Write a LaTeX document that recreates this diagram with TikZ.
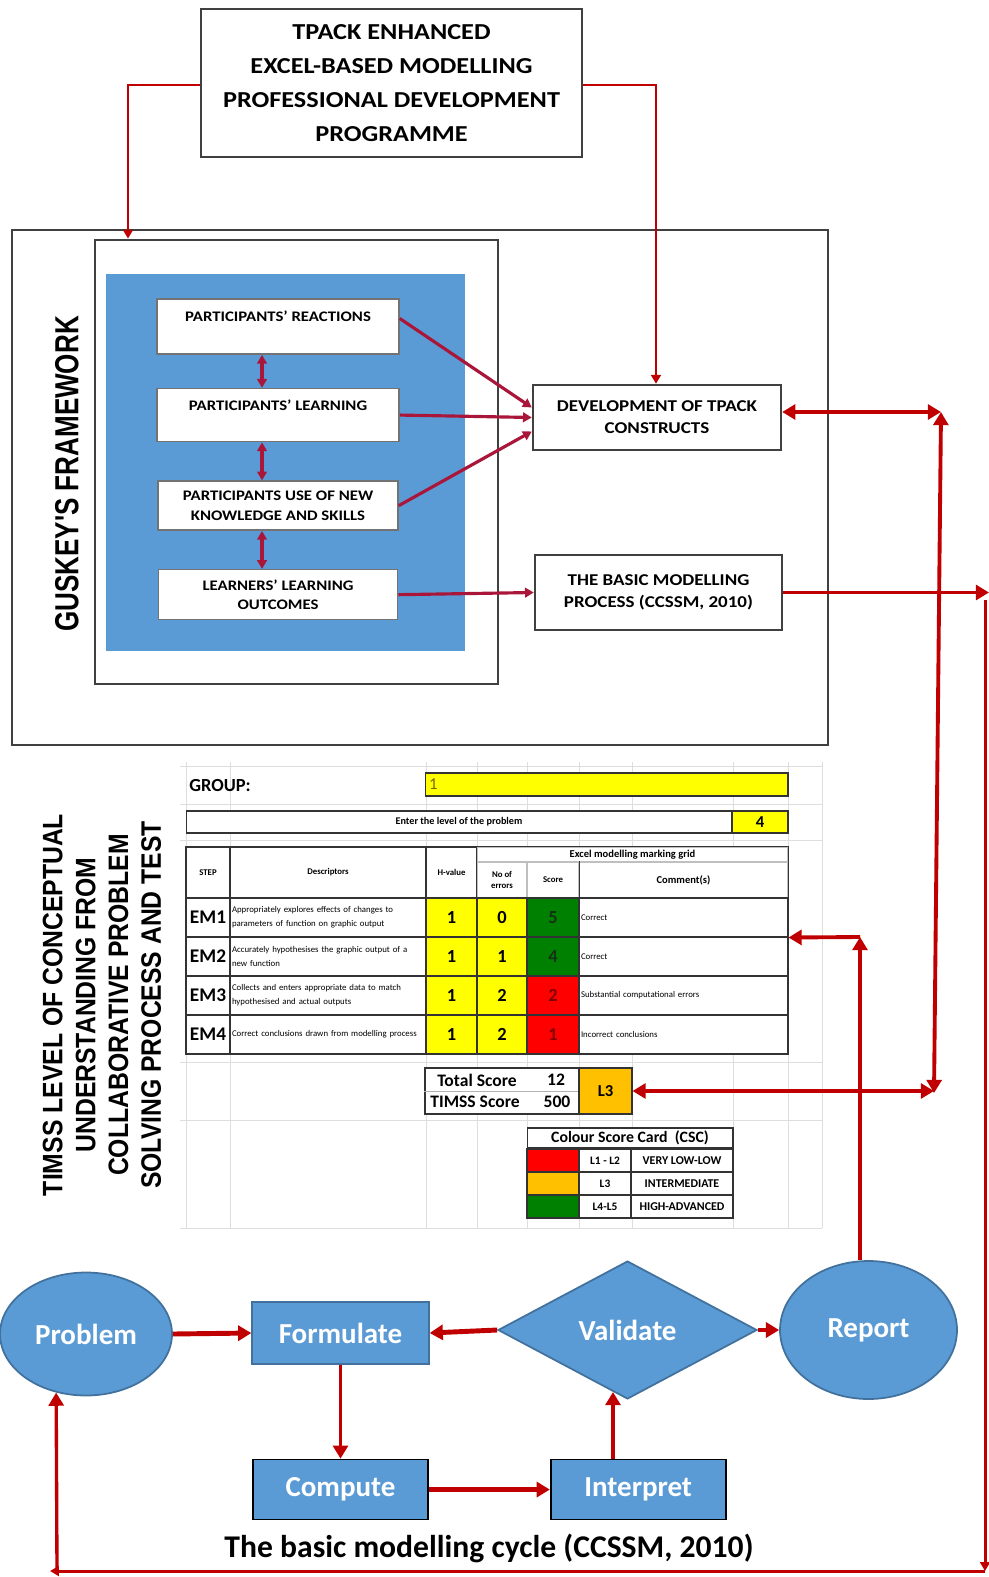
\documentclass[tikz,border=0pt]{standalone}
\usepackage{fontspec}
\setmainfont{Carlito}
\newfontfamily\widefont{Carlito}[FakeStretch=1.15]
\newfontfamily\narrowfont{Liberation Sans}[FakeStretch=0.78]
\newfontfamily\timssfont{Liberation Sans}[FakeStretch=0.88]
\usetikzlibrary{positioning,shapes.geometric,arrows.meta}

\definecolor{pdred}{RGB}{192,0,0}
\definecolor{linkred}{RGB}{170,22,58}
\definecolor{panelblue}{RGB}{91,155,213}
\definecolor{cycleedge}{RGB}{65,113,156}
\definecolor{xlyellow}{RGB}{255,255,0}
\definecolor{xlgreen}{RGB}{0,128,0}
\definecolor{xlred}{RGB}{255,0,0}
\definecolor{xlorange}{RGB}{255,192,0}
\definecolor{xlgrid}{RGB}{222,222,222}
\definecolor{xlbrown}{RGB}{128,96,0}
\definecolor{scgreen}{RGB}{20,50,20}
\definecolor{scred}{RGB}{130,0,0}

\tikzset{
	redtip/.tip={Triangle[length=7.5pt,width=8.5pt]},
	smalltip/.tip={Triangle[length=5pt,width=5.5pt]},
	pdbox/.style={draw=black!75,line width=1.4pt,fill=white,inner sep=0pt,align=center},
	levelbox/.style={draw=black!55,line width=0.9pt,fill=white,inner sep=0pt,align=center,font=\widefont\bfseries\fontsize{8.3}{11.3}\selectfont},
	redline/.style={draw=pdred,line width=2.2pt},
	linkline/.style={draw=linkred,line width=1.8pt},
	stage/.style={fill=panelblue,text=white,font=\bfseries\fontsize{16.5}{18}\selectfont,inner sep=0pt},
	cell/.style={draw=black!80,line width=0.6pt,fill=white,inner sep=0pt,minimum height=0.78cm,align=center},
	hcell/.style={cell,font=\bfseries\fontsize{5}{6}\selectfont},
}

\begin{document}
\begin{tikzpicture}[x=0.02cm,y=-0.02cm]
	\useasboundingbox (0,0) rectangle (989,1577);
	\node (prog) [pdbox,minimum width=7.62cm,minimum height=2.96cm,font=\widefont\bfseries\fontsize{13}{19.3}\selectfont] at (391.5,83) {TPACK ENHANCED\\EXCEL-BASED MODELLING\\PROFESSIONAL DEVELOPMENT\\PROGRAMME};
	\node (outer) [draw=black!75,line width=1.3pt,minimum width=16.32cm,minimum height=10.3cm] at (420,487.5) {};
	\node (inner) [draw=black!75,line width=1.6pt,minimum width=8.06cm,minimum height=8.88cm] at (296.5,462) {};
	\node (panel) [fill=panelblue,minimum width=7.18cm,minimum height=7.54cm] at (285.5,462.5) {};
	\node (gusk) [rotate=90,font=\narrowfont\bfseries\fontsize{19}{22}\selectfont] at (67,474) {GUSKEY'S FRAMEWORK};
	\node (b1) [levelbox,minimum width=4.84cm,minimum height=1.1cm] at (278,326.5) {PARTICIPANTS’ REACTIONS\\~};
	\node (b2) [levelbox,minimum width=4.84cm,minimum height=1.06cm,below=0.66cm of b1] {PARTICIPANTS’ LEARNING\\~};
	\node (b3) [levelbox,minimum width=4.8cm,minimum height=0.98cm,below=0.76cm of b2] {PARTICIPANTS USE OF NEW\\KNOWLEDGE AND SKILLS};
	\node (b4) [levelbox,minimum width=4.78cm,minimum height=1.0cm,below=0.76cm of b3] {LEARNERS’ LEARNING\\OUTCOMES};
	\node (dev) [pdbox,minimum width=4.96cm,minimum height=1.3cm,font=\widefont\bfseries\fontsize{9.4}{12.5}\selectfont] at (657,417.5) {DEVELOPMENT OF TPACK\\CONSTRUCTS};
	\node (basic) [pdbox,minimum width=4.94cm,minimum height=1.5cm,font=\widefont\bfseries\fontsize{9.4}{12.5}\selectfont] at (658.5,592.5) {THE BASIC MODELLING\\PROCESS (CCSSM, 2010)};

	\coordinate (p1) at (128,85);
	\coordinate (p2) at (656,85);
	\draw[redline,line width=1.6pt,-smalltip] (prog.west |- p1) -- (p1) -- (p1 |- inner.north);
	\draw[redline,line width=1.6pt,-smalltip] (prog.east |- p2) -- (p2) -- (p2 |- dev.north);
	\foreach \a/\b in {b1/b2,b2/b3,b3/b4}
		\draw[linkline,smalltip-smalltip] ([xshift=-0.32cm]\a.south) -- ([xshift=-0.32cm]\b.north);
	\draw[linkline,-smalltip] ([yshift=0.16cm]b1.east) -- ([yshift=0.2cm]dev.west);
	\draw[linkline,-smalltip] (b2.east) -- (dev.west);
	\draw[linkline,-smalltip] (b3.east) -- ([yshift=-0.28cm]dev.west);
	\draw[linkline,-smalltip] (b4.east) -- (basic.west);

	\foreach \gx in {186,230,426,477,527,579,632,733,788,822}
		\draw[xlgrid,line width=0.5pt] (\gx,762) -- (\gx,1228);
	\foreach \gy in {766,804,840,1062,1120,1228}
		\draw[xlgrid,line width=0.5pt] (180,\gy) -- (822,\gy);

	\node (timss) [rotate=90,align=center,font=\timssfont\bfseries\fontsize{16}{18.7}\selectfont] at (102,1005) {TIMSS LEVEL OF CONCEPTUAL\\UNDERSTANDING FROM\\COLLABORATIVE PROBLEM\\SOLVING PROCESS AND TEST};

	\node (grp) [anchor=west,inner sep=0pt,font=\bfseries\fontsize{10.5}{12}\selectfont] at (189,786) {GROUP:};
	\node (grpv) [cell,fill=xlyellow,minimum height=0.46cm,text width=7.1cm,align=left,inner xsep=0.08cm,text=xlbrown,font=\fontsize{9.5}{10}\selectfont] at (606.5,784.5) {1};
	\node (lvl) [cell,minimum width=10.92cm,minimum height=0.44cm,font=\bfseries\fontsize{5.8}{7}\selectfont] at (459,822) {Enter the level of the problem};
	\node (lvlv) [cell,fill=xlyellow,minimum width=1.12cm,minimum height=0.44cm,font=\bfseries\fontsize{9.5}{10}\selectfont] at (760,822) {4};

	\node (hstep) [hcell,minimum width=0.88cm,minimum height=1.02cm] at (208,872.5) {STEP};
	\node (hdesc) [hcell,minimum width=3.92cm,minimum height=1.02cm] at (328,872.5) {Descriptors};
	\node (hhval) [hcell,minimum width=1.02cm,minimum height=1.02cm] at (451.5,872.5) {H-value};
	\node (hgrid) [hcell,draw=black!25,minimum width=6.22cm,minimum height=0.3cm,font=\bfseries\fontsize{6}{7}\selectfont] at (632.5,854.5) {Excel modelling marking grid};
	\node (herr) [hcell,draw=black!25,minimum width=1.0cm,minimum height=0.72cm] at (502,880) {No of\\errors};
	\node (hscore) [hcell,draw=black!25,minimum width=1.04cm,minimum height=0.72cm] at (553,880) {Score};
	\node (hcom) [hcell,draw=black!25,minimum width=4.18cm,minimum height=0.72cm,font=\bfseries\fontsize{6}{7}\selectfont] at (683.5,880) {Comment(s)};
	\draw[black!80,line width=0.6pt] (hgrid.north west) rectangle (hcom.south east);
	\draw[black!80,line width=0.6pt] (hscore.north east) -- (hscore.south east);

	\foreach \r/\y/\desc/\er/\sc/\scol/\stxt/\com in {
		1/917.5/{Appropriately explores effects of changes to\\parameters of function on graphic output}/0/5/xlgreen/scgreen/Correct,
		2/956.5/{Accurately hypothesises the graphic output of a\\new function}/1/4/xlgreen/scgreen/Correct,
		3/995.5/{Collects and enters appropriate data to match\\hypothesised and actual outputs}/2/2/xlred/scred/Substantial computational errors,
		4/1034.5/{Correct conclusions drawn from modelling process}/2/1/xlred/scred/Incorrect conclusions}
	{
		\node (step\r) [cell,minimum width=0.88cm,font=\bfseries\fontsize{11}{12}\selectfont] at (208,\y) {EM\r};
		\node (desc\r) [cell,text width=3.84cm,inner xsep=0.04cm,align=left,font=\fontsize{5}{7.8}\selectfont] at (328,\y) {\desc};
		\node (hval\r) [cell,fill=xlyellow,minimum width=1.02cm,font=\bfseries\fontsize{10.5}{12}\selectfont] at (451.5,\y) {1};
		\node (err\r) [cell,fill=xlyellow,minimum width=1.0cm,font=\bfseries\fontsize{10.5}{12}\selectfont] at (502,\y) {\er};
		\node (score\r) [cell,fill=\scol,text=\stxt,minimum width=1.04cm,font=\bfseries\fontsize{10.5}{12}\selectfont] at (553,\y) {\sc};
		\node (com\r) [cell,text width=4.1cm,inner xsep=0.04cm,align=left,font=\fontsize{5}{7.8}\selectfont] at (683.5,\y) {\com};
	}

	\node (tot) [cell,minimum width=3.08cm,minimum height=0.92cm] at (502,1091) {};
	\draw[black!30,line width=0.4pt] (tot.west) -- (tot.east);
	\node (totl) [font=\bfseries\fontsize{10}{12}\selectfont] at (477,1080) {Total Score};
	\node (totv) [font=\bfseries\fontsize{10}{12}\selectfont] at (556,1080) {12};
	\node (timl) [font=\bfseries\fontsize{10}{12}\selectfont] at (475,1102) {TIMSS Score};
	\node (timv) [font=\bfseries\fontsize{10}{12}\selectfont] at (557,1102) {500};
	\node (l3) [cell,fill=xlorange,minimum width=1.06cm,minimum height=0.92cm,font=\bfseries\fontsize{9.5}{11}\selectfont] at (605.5,1091) {L3};

	\node (csc) [cell,minimum width=4.12cm,minimum height=0.4cm,font=\bfseries\fontsize{9}{10}\selectfont] at (630,1138) {Colour Score Card\ \ (CSC)};
	\foreach \i/\y/\col/\lv/\nm in {1/1160.5/xlred/L1 - L2/VERY LOW-LOW,2/1183.5/xlorange/L3/INTERMEDIATE,3/1206.5/xlgreen/L4-L5/HIGH-ADVANCED}
	{
		\node (cscc\i) [cell,fill=\col,minimum width=1.04cm,minimum height=0.46cm] at (553,\y) {};
		\node (cscl\i) [cell,minimum width=1.04cm,minimum height=0.46cm,font=\bfseries\fontsize{6.5}{7}\selectfont] at (605,\y) {\lv};
		\node (cscn\i) [cell,minimum width=2.04cm,minimum height=0.46cm,font=\bfseries\fontsize{6.8}{7}\selectfont] at (682,\y) {\nm};
	}

	\node (prob) [stage,ellipse,draw=cycleedge,line width=1pt,minimum width=3.44cm,minimum height=2.46cm] at (86,1334) {Problem};
	\node (form) [stage,draw=cycleedge,line width=0.8pt,minimum width=3.54cm,minimum height=1.24cm] at (340.5,1333) {Formulate};
	\node (val) [stage,diamond,aspect=1.88,draw=cycleedge,line width=1pt,minimum width=5.18cm,minimum height=2.76cm] at (627.5,1330) {Validate};
	\node (rep) [stage,ellipse,draw=cycleedge,line width=1pt,minimum width=3.54cm,minimum height=2.76cm] at (868.5,1330) {Report};
	\node (comp) [stage,draw=black,line width=1pt,minimum width=3.5cm,minimum height=1.2cm,below=1.88cm of form] {Compute};
	\node (intp) [stage,draw=black,line width=1pt,minimum width=3.5cm,minimum height=1.2cm,right=2.42cm of comp] {Interpret};
	\node (cap) [font=\bfseries\fontsize{18}{20}\selectfont] at (489,1548) {The basic modelling cycle (CCSSM, 2010)};

	\draw[redline,line width=2.8pt,-redtip] (prob.east) -- (form.west);
	\draw[redline,line width=2.8pt,-redtip] (val.west) -- (form.east);
	\draw[redline,line width=2.8pt,-redtip] (val.east) -- (rep.west);
	\draw[redline,-redtip] (form.south) -- (comp.north);
	\draw[redline,line width=2.8pt,-redtip] (comp.east) -- (intp.west);
	\coordinate (c9) at (613,1392);
	\draw[redline,-redtip] (intp.north -| c9) -- (c9);

	\coordinate (c1) at (941,412);
	\coordinate (c2) at (934,1093);
	\draw[redline,redtip-redtip] (dev.east |- c1) -- (c1);
	\draw[redline,redtip-redtip] (c2) -- (c1);
	\draw[redline,redtip-redtip] (l3.east) -- (l3.east -| c2);
	\coordinate (c3) at (860,937);
	\draw[redline,-redtip] (rep.north -| c3) -- (c3);
	\draw[redline,-redtip] (c3) -- (com1.south east);
	\coordinate (c4) at (989,592);
	\draw[redline,-redtip] (basic.east) -- (basic.east -| c4);
	\coordinate (c5) at (985,600);
	\coordinate (c6) at (985,1571);
	\coordinate (c7) at (50,1571);
	\coordinate (c8) at (57,1571);
	\draw[redline,line width=1.7pt,-smalltip] (c5) -- (c6);
	\draw[redline,line width=1.7pt,-smalltip] (c6) -- (c7);
	\draw[redline,line width=1.9pt,-redtip] (c8) -- (prob.243);
\end{tikzpicture}
\end{document}
